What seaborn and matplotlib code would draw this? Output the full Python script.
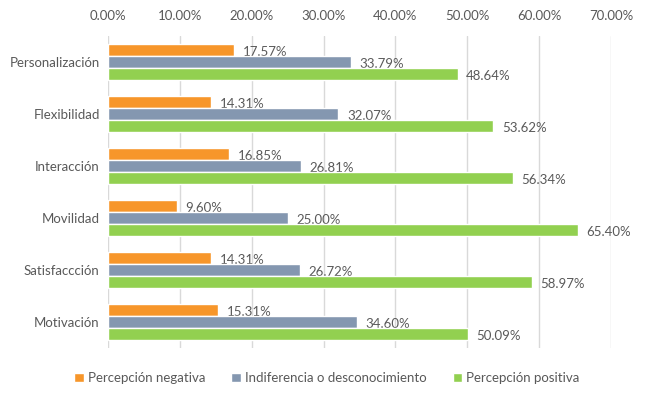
import matplotlib
matplotlib.use("Agg")
import matplotlib.pyplot as plt
import seaborn as sns
import pandas as pd
from matplotlib.ticker import FuncFormatter

categories = ["Personalización", "Flexibilidad", "Interacción", "Movilidad", "Satisfaccción", "Motivación"]
negativa = [17.57, 14.31, 16.85, 9.60, 14.31, 15.31]
indiferencia = [33.79, 32.07, 26.81, 25.00, 26.72, 34.60]
positiva = [48.64, 53.62, 56.34, 65.40, 58.97, 50.09]
series = ["Percepción negativa", "Indiferencia o desconocimiento", "Percepción positiva"]
colors = ["#F7962A", "#8497B0", "#92D050"]
xticks = [0, 10, 20, 30, 40, 50, 60, 70]

rows = []
for name, vals in zip(series, [negativa, indiferencia, positiva]):
    for c, v in zip(categories, vals):
        rows.append({"cat": c, "serie": name, "val": v})
df = pd.DataFrame(rows)

sns.set_theme(style="white")
plt.rcParams["font.family"] = ["Lato", "DejaVu Sans"]
txt = "#595959"
fs = 9.5

fig = plt.figure(figsize=(6.67, 3.96), dpi=100)
ax = fig.add_axes([108/667, 1 - 348/396, (611-108)/667, (348-36)/396])

sns.barplot(data=df, y="cat", x="val", hue="serie", order=categories,
            hue_order=series, palette=colors, orient="h", width=0.69,
            saturation=1, ax=ax, legend=True, zorder=2)

for cont in ax.containers:
    for bar in cont:
        w = bar.get_width()
        y = bar.get_y() + bar.get_height() / 2
        ax.text(w + 1.2, y + 2.0/52, f"{w:.2f}%", va="center", ha="left",
                fontsize=fs, color=txt, zorder=1)

ax.set_xlim(0, 70)
ax.set_xticks(xticks)
ax.xaxis.set_major_formatter(FuncFormatter(lambda v, p: f"{v:.2f}%"))
ax.xaxis.tick_top()
ax.tick_params(axis="x", length=0, labelsize=fs, colors=txt, pad=10)
ax.tick_params(axis="y", length=0, labelsize=fs, colors=txt, pad=6)
ax.grid(axis="x", color="#D9D9D9", linewidth=1, zorder=0)
ax.set_axisbelow(True)
for s in ax.spines.values():
    s.set_visible(False)
ax.set_xlabel("")
ax.set_ylabel("")

ax.legend(loc="center", bbox_to_anchor=(0.49, 1 - 378/396), bbox_transform=fig.transFigure,
          ncol=3, frameon=False,
          fontsize=fs, labelcolor=txt, handlelength=0.7, handleheight=0.7,
          handletextpad=0.3, columnspacing=2.0)
ax.set_xlim(0, 70)

fig.savefig("out.png", dpi=100)
